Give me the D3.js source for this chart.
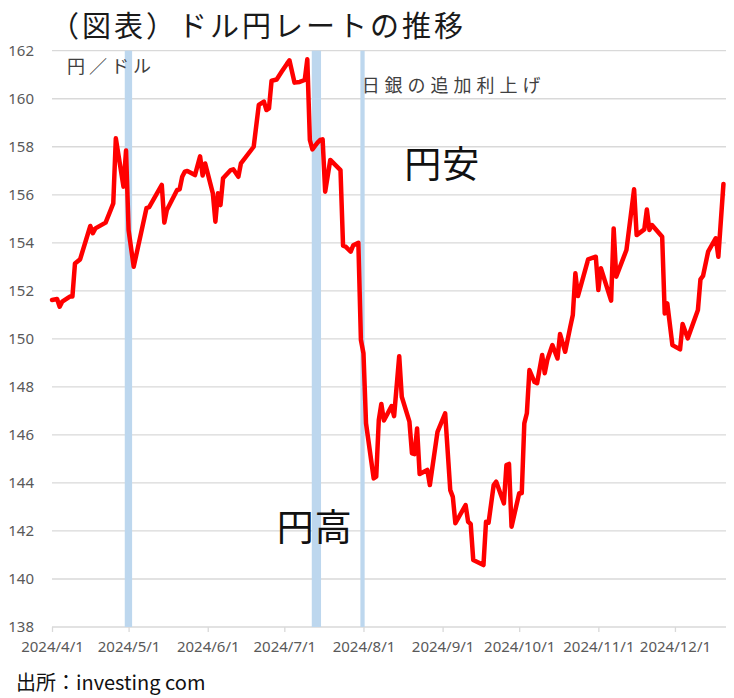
<!DOCTYPE html>
<html lang="ja">
<head>
<meta charset="utf-8">
<script src="https://cdn.jsdelivr.net/npm/d3@7"></script>
<style>
    body { margin: 0; background: #fff; }
    #chart-area { width: 734px; height: 698px; }
    .axis text { font-family: "Noto Sans", "Open Sans", sans-serif; font-size: 15px; fill: #595959; }
    .jp { font-family: "Noto Sans CJK JP", "Noto Sans", sans-serif; }
</style>
</head>
<body>
<div id="chart-area"></div>
<script>

// dates / closing rates (yen per dollar)
const dates = [
    "2024-04-01", "2024-04-03", "2024-04-04", "2024-04-05", "2024-04-08", "2024-04-09", "2024-04-10", "2024-04-12",
    "2024-04-16", "2024-04-17", "2024-04-18", "2024-04-22", "2024-04-24", "2024-04-25", "2024-04-26", "2024-04-29",
    "2024-04-30", "2024-05-01", "2024-05-03", "2024-05-08", "2024-05-09", "2024-05-14", "2024-05-15", "2024-05-16",
    "2024-05-20", "2024-05-21", "2024-05-22", "2024-05-23", "2024-05-24", "2024-05-27", "2024-05-29", "2024-05-30",
    "2024-05-31", "2024-06-03", "2024-06-04", "2024-06-05", "2024-06-06", "2024-06-07", "2024-06-10", "2024-06-11",
    "2024-06-13", "2024-06-14", "2024-06-19", "2024-06-21", "2024-06-23", "2024-06-24", "2024-06-25", "2024-06-26",
    "2024-06-28", "2024-06-30", "2024-07-02", "2024-07-03", "2024-07-05", "2024-07-07", "2024-07-09", "2024-07-10",
    "2024-07-11", "2024-07-12", "2024-07-14", "2024-07-15", "2024-07-16", "2024-07-17", "2024-07-19", "2024-07-23",
    "2024-07-24", "2024-07-25", "2024-07-27", "2024-07-28", "2024-07-30", "2024-07-31", "2024-08-01", "2024-08-02",
    "2024-08-05", "2024-08-06", "2024-08-07", "2024-08-08", "2024-08-09", "2024-08-12", "2024-08-13", "2024-08-15",
    "2024-08-16", "2024-08-19", "2024-08-20", "2024-08-21", "2024-08-22", "2024-08-23", "2024-08-26", "2024-08-27",
    "2024-08-30", "2024-09-02", "2024-09-04", "2024-09-05", "2024-09-06", "2024-09-10", "2024-09-11", "2024-09-12",
    "2024-09-13", "2024-09-17", "2024-09-18", "2024-09-19", "2024-09-21", "2024-09-22", "2024-09-25", "2024-09-26",
    "2024-09-27", "2024-09-28", "2024-10-01", "2024-10-02", "2024-10-03", "2024-10-04", "2024-10-05", "2024-10-07",
    "2024-10-08", "2024-10-10", "2024-10-11", "2024-10-12", "2024-10-14", "2024-10-16", "2024-10-17", "2024-10-19",
    "2024-10-21", "2024-10-22", "2024-10-23", "2024-10-24", "2024-10-28", "2024-10-31", "2024-11-01", "2024-11-02",
    "2024-11-06", "2024-11-07", "2024-11-08", "2024-11-12", "2024-11-15", "2024-11-16", "2024-11-19", "2024-11-20",
    "2024-11-21", "2024-11-22", "2024-11-26", "2024-11-27", "2024-11-28", "2024-11-30", "2024-12-03", "2024-12-04",
    "2024-12-06", "2024-12-10", "2024-12-11", "2024-12-12", "2024-12-14", "2024-12-17", "2024-12-18", "2024-12-20"
];

const rates = [
    151.62, 151.66, 151.34, 151.55, 151.76, 151.76, 153.14, 153.31,
    154.70, 154.40, 154.60, 154.84, 155.37, 155.64, 158.35, 156.34,
    157.84, 154.53, 153.00, 155.44, 155.48, 156.41, 154.84, 155.37,
    156.20, 156.23, 156.75, 156.96, 156.99, 156.82, 157.60, 156.80,
    157.30, 156.06, 154.88, 156.06, 155.57, 156.69, 157.03, 157.06,
    156.75, 157.31, 158.00, 159.74, 159.88, 159.53, 159.60, 160.75,
    160.80, 161.13, 161.45, 161.60, 160.67, 160.70, 160.78, 161.64,
    158.28, 157.89, 158.17, 158.28, 158.31, 156.13, 157.45, 157.03,
    153.88, 153.84, 153.63, 153.90, 154.00, 149.95, 149.40, 146.48,
    144.19, 144.26, 146.62, 147.29, 146.60, 147.20, 146.78, 149.28,
    147.59, 146.55, 145.23, 145.20, 146.27, 144.37, 144.54, 143.91,
    146.13, 146.90, 143.70, 143.42, 142.32, 143.08, 142.38, 142.29,
    140.79, 140.58, 142.38, 142.34, 143.91, 144.05, 143.15, 144.74,
    144.79, 142.18, 143.57, 143.57, 146.48, 146.90, 148.70, 148.20,
    148.15, 149.33, 148.57, 149.12, 149.74, 149.18, 150.20, 149.46,
    150.50, 150.99, 152.73, 151.78, 153.31, 153.42, 152.03, 152.94,
    151.59, 154.60, 152.59, 153.70, 156.23, 154.32, 154.56, 155.39,
    154.53, 154.74, 154.25, 151.06, 151.48, 149.74, 149.56, 150.62,
    150.02, 151.20, 152.48, 152.62, 153.63, 154.19, 153.42, 156.45
];

// intervention / BOJ hike periods shown as shaded bands
const bandStarts = ["2024-04-29T12:00", "2024-07-11T18:00", "2024-07-30T19:00"];
const bandEnds = ["2024-05-02T09:00", "2024-07-15T09:00", "2024-08-01T11:00"];

const yTicks = [138, 140, 142, 144, 146, 148, 150, 152, 154, 156, 158, 160, 162];
const xTickDates = ["2024-04-01", "2024-05-01", "2024-06-01", "2024-07-01", "2024-08-01",
    "2024-09-01", "2024-10-01", "2024-11-01", "2024-12-01"];
const xDomain = ["2024-04-01", "2024-12-21"];

const titleText = "（図表）ドル円レートの推移";
const unitText = "円／ドル";
const bojText = "日銀の追加利上げ";
const sourceText = "出所：investing com";

// big annotations placed in data space
const noteTexts = ["円安", "円高"];
const noteDates = ["2024-08-17", "2024-06-28"];
const noteValues = [156.7, 141.6];


class RateChart {

    constructor(parentElement) {
        this.parentElement = parentElement;
        this.initVis();
    }

    initVis() {
        let vis = this;

        vis.margin = { top: 50.7, right: 8, bottom: 71, left: 52 };
        vis.width = 734 - vis.margin.left - vis.margin.right;
        vis.height = 698 - vis.margin.top - vis.margin.bottom;

        vis.root = d3.select("#" + vis.parentElement).append("svg")
            .attr("width", 734)
            .attr("height", 698);

        vis.svg = vis.root.append("g")
            .attr("transform", "translate(" + vis.margin.left + "," + vis.margin.top + ")");

        vis.parseDay = d3.timeParse("%Y-%m-%d");
        vis.parseTime = d3.timeParse("%Y-%m-%dT%H:%M");

        vis.x = d3.scaleTime()
            .domain(xDomain.map(vis.parseDay))
            .range([0, vis.width]);

        vis.y = d3.scaleLinear()
            .domain([d3.min(yTicks), d3.max(yTicks)])
            .range([vis.height, 0]);

        // title
        vis.root.append("text")
            .attr("class", "jp")
            .attr("x", 50)
            .attr("y", 36.5)
            .style("font-size", "29px")
            .style("letter-spacing", "3px")
            .attr("fill", "#1a1a1a")
            .text(titleText);

        // source
        vis.root.append("text")
            .attr("class", "jp")
            .attr("x", 16)
            .attr("y", 690)
            .style("font-size", "20px")
            .attr("fill", "#111")
            .text(sourceText);

        vis.wrangleData();
    }

    wrangleData() {
        let vis = this;

        vis.series = dates.map((d, i) => ({ date: vis.parseDay(d), value: rates[i] }));
        vis.bands = bandStarts.map((d, i) => ({ start: vis.parseTime(d), end: vis.parseTime(bandEnds[i]) }));
        vis.notes = noteTexts.map((t, i) => ({ text: t, date: vis.parseDay(noteDates[i]), value: noteValues[i] }));

        vis.updateVis();
    }

    updateVis() {
        let vis = this;

        // horizontal gridlines
        vis.svg.selectAll(".grid")
            .data(yTicks)
            .join("line")
            .attr("class", "grid")
            .attr("x1", 0)
            .attr("x2", vis.width)
            .attr("y1", d => vis.y(d))
            .attr("y2", d => vis.y(d))
            .attr("stroke", "#d9d9d9")
            .attr("stroke-width", 1.3);

        // y axis labels
        const yAxis = d3.axisLeft(vis.y)
            .tickValues(yTicks)
            .tickSize(0)
            .tickPadding(18);

        vis.svg.append("g")
            .attr("class", "axis y-axis")
            .call(yAxis)
            .call(g => g.select(".domain").remove());

        // x axis with small ticks below the baseline
        const xAxis = d3.axisBottom(vis.x)
            .tickValues(xTickDates.map(vis.parseDay))
            .tickFormat(d3.timeFormat("%Y/%-m/%-d"))
            .tickSize(5)
            .tickPadding(9);

        vis.svg.append("g")
            .attr("class", "axis x-axis")
            .attr("transform", "translate(0," + vis.height + ")")
            .call(xAxis)
            .call(g => g.select(".domain").remove())
            .call(g => g.selectAll(".tick line").attr("stroke", "#d9d9d9").attr("stroke-width", 1.3));

        // shaded bands
        vis.svg.selectAll(".band")
            .data(vis.bands)
            .join("rect")
            .attr("class", "band")
            .attr("x", d => vis.x(d.start))
            .attr("width", d => vis.x(d.end) - vis.x(d.start))
            .attr("y", 0)
            .attr("height", vis.height)
            .attr("fill", "#bdd7ee");

        // rate line
        const line = d3.line()
            .x(d => vis.x(d.date))
            .y(d => vis.y(d.value));

        vis.svg.append("path")
            .datum(vis.series)
            .attr("d", line)
            .attr("fill", "none")
            .attr("stroke", "#ff0000")
            .attr("stroke-width", 4.5)
            .attr("stroke-linejoin", "round")
            .attr("stroke-linecap", "round");

        // small labels inside the plot
        vis.svg.append("text")
            .attr("class", "jp")
            .attr("x", 15)
            .attr("y", 22.5)
            .style("font-size", "18px")
            .style("letter-spacing", "4px")
            .attr("fill", "#404040")
            .text(unitText);

        vis.svg.append("text")
            .attr("class", "jp")
            .attr("x", vis.x(vis.bands[2].end) - 3)
            .attr("y", 41)
            .style("font-size", "18px")
            .style("letter-spacing", "5px")
            .attr("fill", "#404040")
            .text(bojText);

        // big annotations
        vis.svg.selectAll(".note")
            .data(vis.notes)
            .join("text")
            .attr("class", "jp note")
            .attr("x", d => vis.x(d.date))
            .attr("y", d => vis.y(d.value))
            .style("font-size", "37px")
            .style("letter-spacing", "1px")
            .attr("fill", "#111")
            .text(d => d.text);
    }
}

new RateChart("chart-area");
</script>
</body>
</html>
